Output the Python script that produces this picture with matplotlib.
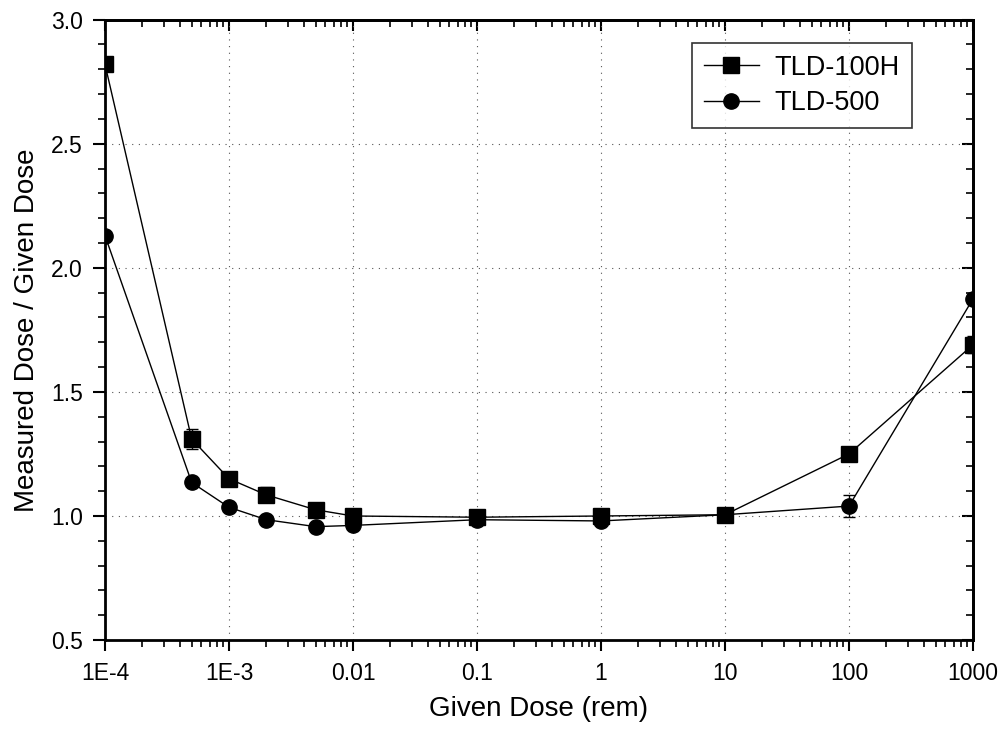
import numpy as np
import matplotlib
matplotlib.use('Agg')
import matplotlib.pyplot as plt
from matplotlib.lines import Line2D
from matplotlib.ticker import LogLocator, NullFormatter, FixedLocator, MultipleLocator

plt.rcParams['font.family'] = ['Liberation Sans', 'DejaVu Sans']

dose = [1e-4, 5e-4, 1e-3, 2e-3, 5e-3, 0.01, 0.1, 1, 10, 100, 1000]
tld100h = [2.82, 1.31, 1.15, 1.085, 1.025, 1.00, 0.995, 1.00, 1.005, 1.25, 1.69]
tld100h_err = [0.02, 0.04, 0.015, 0.03, 0.01, 0.01, 0.01, 0.01, 0.01, 0.03, 0.035]
tld500 = [2.13, 1.135, 1.035, 0.985, 0.957, 0.962, 0.985, 0.98, 1.005, 1.04, 1.875]
tld500_err = [0.015, 0.01, 0.01, 0.01, 0.01, 0.01, 0.01, 0.01, 0.01, 0.046, 0.02]
xtick_vals = [1e-4, 1e-3, 0.01, 0.1, 1, 10, 100, 1000]
xtick_labels = ['1E-4', '1E-3', '0.01', '0.1', '1', '10', '100', '1000']

fig = plt.figure(figsize=(10, 7.29), dpi=100)
ax = fig.add_axes([0.105, 0.122, 0.868, 0.851])

ax.errorbar(dose, tld100h, yerr=tld100h_err, color='black', lw=1.0,
            marker='s', ms=11, capsize=4, elinewidth=1, zorder=3)
ax.errorbar(dose, tld500, yerr=tld500_err, color='black', lw=1.0,
            marker='o', ms=11, capsize=4, elinewidth=1, zorder=3)

ax.set_xscale('log')
ax.set_xlim(1e-4, 1000)
ax.set_ylim(0.5, 3.0)


def set_ticks(axis_x, axis_y):
    if axis_x is not None:
        axis_x.set_major_locator(FixedLocator(xtick_vals))
        axis_x.set_minor_locator(LogLocator(base=10, subs=np.arange(2, 10), numticks=20))
        axis_x.set_minor_formatter(NullFormatter())
    if axis_y is not None:
        axis_y.set_major_locator(MultipleLocator(0.5))
        axis_y.set_minor_locator(MultipleLocator(0.1))


set_ticks(ax.xaxis, ax.yaxis)
ax.set_xticklabels(xtick_labels)
ax.yaxis.set_major_formatter(plt.FormatStrFormatter('%.1f'))

# bottom/left ticks point out, top/right ticks point in
ax.tick_params(which='both', direction='out', labelsize=16.5)
ax.tick_params(axis='x', which='major', length=8, width=1.5, pad=8)
ax.tick_params(axis='y', which='major', length=9, width=1.5, pad=7)
ax.tick_params(which='minor', length=5, width=1.2)
for s in ax.spines.values():
    s.set_linewidth(2)

top = ax.secondary_xaxis('top')
right = ax.secondary_yaxis('right')
set_ticks(top.xaxis, None)
set_ticks(None, right.yaxis)
for sec in (top, right):
    sec.tick_params(which='both', direction='in')
    sec.tick_params(which='major', length=8, width=1.5)
    sec.tick_params(which='minor', length=5, width=1.2)
    for s in sec.spines.values():
        s.set_linewidth(2)
top.set_xticklabels([])
top.xaxis.set_minor_formatter(NullFormatter())
right.set_yticklabels([])
right.yaxis.set_minor_formatter(NullFormatter())

ax.grid(True, which='major', color='#555555', linestyle=(0, (1, 5)), lw=0.8)

ax.set_xlabel('Given Dose (rem)', fontsize=20, labelpad=8)
ax.set_ylabel('Measured Dose / Given Dose', fontsize=20, labelpad=8)

handles = [Line2D([], [], color='black', lw=1.0, marker='s', ms=11),
           Line2D([], [], color='black', lw=1.0, marker='o', ms=11)]
leg = ax.legend(handles, ['TLD-100H', 'TLD-500'], loc='upper right',
                bbox_to_anchor=(0.93, 0.963), fontsize=19.5, frameon=True,
                fancybox=False, edgecolor='black', handlelength=2.0,
                handletextpad=0.6, borderpad=0.45, labelspacing=0.35,
                borderaxespad=0)
leg.get_frame().set_linewidth(1.2)

fig.savefig('out.png', dpi=100)
